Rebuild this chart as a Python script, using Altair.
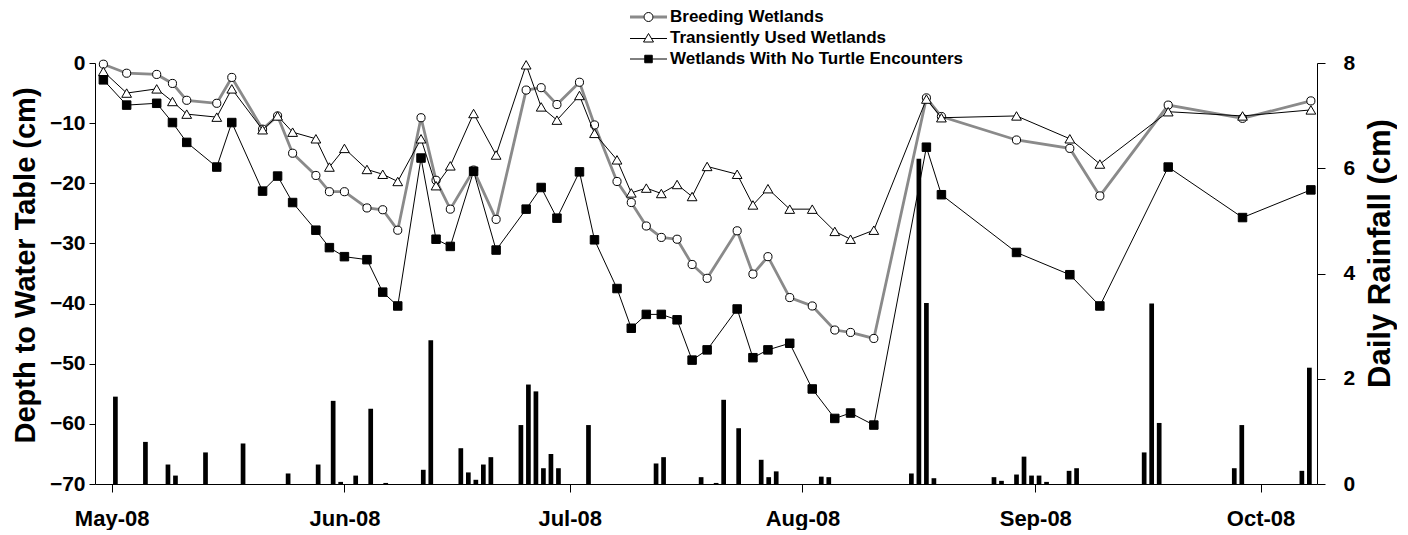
import json
import altair as alt
import pandas as pd

FONT = "Liberation Sans"

# ---- data ----
# position of each water-table sample, in days after 1 May 2008 (as plotted)
sample_day = [-1.1, 2.0, 6.0, 8.1, 10.0, 14.0, 16.0, 20.1, 22.1, 24.1, 27.2, 29.0, 31.0, 34.0,
              36.1, 38.1, 41.2, 43.2, 45.1, 48.2, 51.2, 55.2, 57.2, 59.3, 62.3, 64.3, 67.3, 69.2,
              71.2, 73.2, 75.3, 77.3, 79.3, 83.3, 85.4, 87.4, 90.3, 93.3, 96.3, 98.4, 101.5, 108.5,
              110.5, 120.5, 127.6, 131.6, 140.7, 150.6, 159.7]

breeding = [-0.2, -1.7, -1.9, -3.4, -6.2, -6.7, -2.4, -11.0, -8.8, -15.0,
            -18.7, -21.4, -21.4, -24.1, -24.4, -27.8, -9.1, -19.5, -24.3, -17.8,
            -26.0, -4.5, -4.1, -6.9, -3.2, -10.3, -19.7, -23.2, -27.1, -29.0,
            -29.3, -33.5, -35.8, -27.9, -35.1, -32.2, -39.0, -40.4, -44.4, -44.8,
            -45.8, -5.8, -8.9, -12.8, -14.2, -22.1, -7.0, -9.2, -6.3]

transient = [-1.4, -5.0, -4.3, -6.4, -8.5, -9.0, -4.3, -11.1, -8.8, -11.5,
             -12.6, -17.3, -14.2, -17.7, -18.5, -19.7, -12.6, -20.4, -17.1, -8.4,
             -15.3, -0.3, -7.3, -9.5, -5.4, -11.7, -16.1, -21.6, -20.8, -21.7,
             -20.2, -22.2, -17.2, -18.5, -23.6, -20.9, -24.3, -24.3, -28.0, -29.3,
             -27.8, -6.0, -9.1, -8.8, -12.6, -16.8, -8.1, -8.8, -7.8]

no_turtle = [-2.8, -7.0, -6.7, -9.9, -13.2, -17.3, -9.9, -21.3, -18.8, -23.2,
             -27.8, -30.7, -32.2, -32.7, -38.1, -40.4, -15.8, -29.3, -30.5, -18.0,
             -31.1, -24.3, -20.7, -25.8, -18.1, -29.4, -37.5, -44.1, -41.8, -41.8,
             -42.7, -49.4, -47.7, -40.9, -49.0, -47.7, -46.6, -54.2, -59.1, -58.2,
             -60.2, -14.0, -21.9, -31.5, -35.2, -40.4, -17.3, -25.7, -21.1]

# daily rainfall: day index (0 = 1 May 2008) and amount in cm
rain_day = [0, 4, 7, 8, 12, 17, 23, 27, 29, 30, 32, 34, 36, 41, 42, 46, 47, 48, 49, 50,
            54, 55, 56, 57, 58, 59, 63, 72, 73, 78, 80, 81, 83, 86, 87, 88, 94, 95, 106, 107,
            108, 109, 117, 118, 120, 121, 122, 123, 124, 127, 128, 137, 138, 139, 149, 150, 158, 159]
rain_cm = [1.66, 0.80, 0.37, 0.16, 0.60, 0.77, 0.20, 0.37, 1.58, 0.04,
           0.16, 1.43, 0.02, 0.27, 2.73, 0.68, 0.22, 0.08, 0.37, 0.51,
           1.12, 1.89, 1.76, 0.30, 0.57, 0.30, 1.12, 0.39, 0.51, 0.13,
           0.02, 1.60, 1.06, 0.46, 0.13, 0.24, 0.14, 0.13, 0.20, 6.18,
           3.44, 0.11, 0.13, 0.06, 0.18, 0.52, 0.16, 0.16, 0.04, 0.25,
           0.30, 0.60, 3.43, 1.16, 0.30, 1.12, 0.25, 2.21]

month_ticks = [0, 31, 61, 92, 123, 153]
month_labels = ["May-08", "Jun-08", "Jul-08", "Aug-08", "Sep-08", "Oct-08"]
depth_ticks = [-70, -60, -50, -40, -30, -20, -10, 0]
rain_ticks = [0, 2, 4, 6, 8]
series_names = ["Breeding Wetlands", "Transiently Used Wetlands",
                "Wetlands With No Turtle Encounters"]
line_colors = ["#8a8a8a", "black", "black"]
marker_fills = ["white", "white", "black"]

# ---- tables ----
wide = pd.DataFrame({"day": sample_day, series_names[0]: breeding,
                     series_names[1]: transient, series_names[2]: no_turtle})
lines_df = wide.melt(id_vars="day", var_name="series", value_name="depth")
rain_df = pd.DataFrame({"day": [d + 0.5 for d in rain_day], "rain": rain_cm})

# ---- scales & axes ----
xscale = alt.Scale(domain=[-1.55, 159.85], nice=False, zero=False)
label_expr = f"{json.dumps(month_labels)}[indexof({json.dumps(month_ticks)}, datum.value)]"
xaxis = alt.Axis(values=month_ticks, labelExpr=label_expr, title=None, grid=False,
                 tickSize=8, labelPadding=16, labelFont=FONT, labelFontSize=22,
                 labelFontWeight="bold", labelColor="black", domainColor="black",
                 tickColor="black", labelOverlap=False, labelFlush=False)

yscale = alt.Scale(domain=[-70, 0], nice=False, zero=False)
yaxis = alt.Axis(orient="left", values=depth_ticks, grid=False, tickSize=6, labelPadding=4,
                 labelFont=FONT, labelFontSize=21, labelFontWeight="bold", labelColor="black",
                 domainColor="black", tickColor="black",
                 title="Depth to Water Table (cm)", titleFont=FONT, titleFontSize=29,
                 titleFontWeight="bold", titleColor="black", titleAngle=270,
                 titleX=-70, titleY=202, titleAlign="center", titleBaseline="middle")

rscale = alt.Scale(domain=[0, 8], nice=False)
raxis = alt.Axis(orient="right", values=rain_ticks, grid=False, tickSize=8, labelPadding=18,
                 labelFont=FONT, labelFontSize=21, labelFontWeight="bold", labelColor="black",
                 domainColor="black", tickColor="black",
                 title="Daily Rainfall (cm)", titleFont=FONT, titleFontSize=31,
                 titleFontWeight="bold", titleColor="black", titleAngle=270,
                 titleX=63, titleY=190, titleAlign="center", titleBaseline="middle")

X = alt.X("day:Q", scale=xscale, axis=xaxis)
Y = alt.Y("depth:Q", scale=yscale, axis=yaxis)

bars = alt.Chart(rain_df).mark_bar(size=4.7, color="black").encode(
    x=X, y=alt.Y("rain:Q", scale=rscale, axis=raxis))

base = alt.Chart(lines_df)


def series_layers(name, line_color, line_width, shape, fill, size):
    sub = base.transform_filter(alt.datum.series == name)
    line = sub.mark_line(color=line_color, strokeWidth=line_width).encode(x=X, y=Y)
    pts = sub.mark_point(shape=shape, filled=True, fill=fill, stroke="black", strokeWidth=1,
                         size=size, opacity=1).encode(x=X, y=Y)
    return [line, pts]


layers = []
layers += series_layers(series_names[0], line_colors[0], 2.8, "circle", marker_fills[0], 66)
layers += series_layers(series_names[1], line_colors[1], 1, "triangle-up", marker_fills[1], 95)
layers += series_layers(series_names[2], line_colors[2], 1, "square", marker_fills[2], 72)

# ---- legend: markers (with thin black lines) + a second, label-less legend for the grey line
marker_paths = [
    "M-0.9,0A0.9,0.9,0,1,0,0.9,0A0.9,0.9,0,1,0,-0.9,0Z",
    "M-3.7,0.1L-0.55,0.1M0.55,0.1L3.7,0.1M0,-0.9L1,0.8L-1,0.8Z",
    "M-3.7,0L-0.75,0M0.75,0L3.7,0M-0.75,-0.75L0.75,-0.75L0.75,0.75L-0.75,0.75Z",
]
line_path = "M-3.7,0L-0.95,0M0.95,0L3.7,0"
LEG_X, LEG_Y = 545, -54.5
common = dict(title=None, orient="none", legendX=LEG_X, legendY=LEG_Y, direction="vertical",
              labelFont=FONT, labelFontSize=17, labelFontWeight="bold", labelColor="black",
              labelOffset=13, symbolSize=100, symbolOpacity=1, rowPadding=3, padding=0,
              labelLimit=500)
legend_markers = alt.Legend(symbolStrokeWidth=1, **common)
legend_lines = alt.Legend(symbolStrokeWidth=2.8, labelOpacity=0, **common)

legend_layer = base.transform_filter("false").mark_point(filled=True, strokeWidth=1,
                                                          opacity=1).encode(
    x=X, y=Y,
    shape=alt.Shape("series:N", scale=alt.Scale(domain=series_names, range=marker_paths),
                    legend=legend_markers),
    fill=alt.Fill("series:N", scale=alt.Scale(domain=series_names, range=marker_fills),
                  legend=legend_markers),
    stroke=alt.Stroke("series:N", scale=alt.Scale(domain=series_names,
                                                  range=["black", "black", "black"]),
                      legend=legend_markers),
)
legend_line_layer = base.transform_filter("false").mark_point(filled=False, strokeWidth=2.8,
                                                               opacity=1).encode(
    x=X, y=Y,
    shape=alt.Shape("series:N", scale=alt.Scale(domain=series_names,
                                                range=[line_path, line_path, line_path]),
                    legend=legend_lines),
    stroke=alt.Stroke("series:N", scale=alt.Scale(domain=series_names,
                                                  range=[line_colors[0], "transparent",
                                                         "transparent"]),
                      legend=legend_lines),
)
layers.append(legend_line_layer)
layers.append(legend_layer)

inner = alt.layer(*layers).resolve_scale(shape="independent", stroke="independent",
                                         fill="independent")
chart = alt.layer(bars, inner).resolve_scale(y="independent").properties(
    width=1222, height=421,
    autosize=alt.AutoSizeParams(type="none"),
    padding={"left": 87, "top": 55, "right": 80, "bottom": 46},
    background="white",
).configure_view(strokeWidth=0)

chart.save("out.html", embed_options={"renderer": "svg", "actions": False})
